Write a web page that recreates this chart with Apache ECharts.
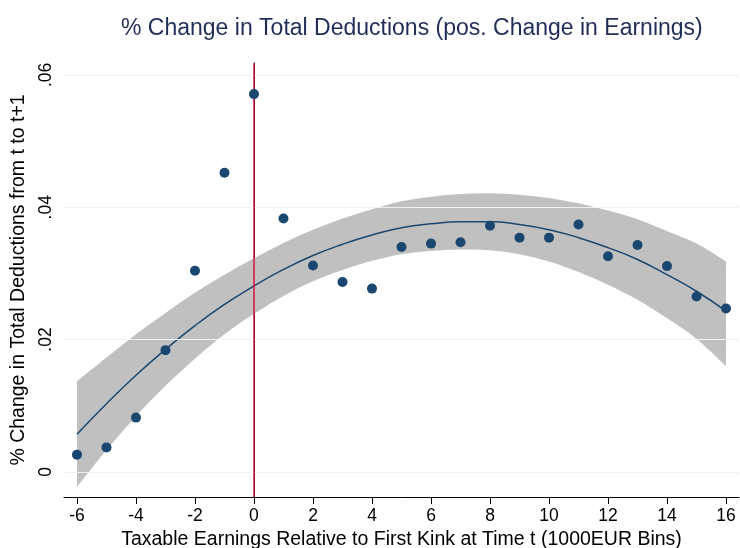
<!DOCTYPE html>
<html>
<head>
<meta charset="utf-8">
<script src="https://cdn.jsdelivr.net/npm/echarts@6/dist/echarts.min.js"></script>
<style>
  html, body { margin: 0; padding: 0; background: #fff; }
  #main { width: 740px; height: 548px; }
</style>
</head>
<body>
<div id="main"></div>
<script>
// bins relative to first kink (1000 EUR)
const bins = [-6, -5, -4, -3, -2, -1, 0, 1, 2, 3, 4, 5, 6, 7, 8, 9, 10, 11, 12, 13, 14, 15, 16]
// binned % change in total deductions
const deductions = [0.0026, 0.0037, 0.0082, 0.0184, 0.0304, 0.0452, 0.0571, 0.0383, 0.0312, 0.0287, 0.0277, 0.0340,
    0.0345, 0.0347, 0.0372, 0.0354, 0.0354, 0.0374, 0.0326, 0.0343, 0.0311, 0.0265, 0.0247]
// quadratic fit
const fitLine = [0.0057, 0.0103, 0.0146, 0.0185, 0.0221, 0.0253, 0.0281, 0.0306, 0.0327, 0.0344, 0.0358, 0.0369,
    0.0375, 0.0378, 0.0378, 0.0374, 0.0366, 0.0354, 0.0339, 0.0321, 0.0298, 0.0273, 0.0243]
// confidence band edges
const ciUpper = [0.0137, 0.0173, 0.0208, 0.0240, 0.0271, 0.0298, 0.0323, 0.0346, 0.0366, 0.0383, 0.0397, 0.0409,
    0.0416, 0.0420, 0.0421, 0.0419, 0.0414, 0.0406, 0.0395, 0.0382, 0.0364, 0.0345, 0.0318]
const ciLower = [-0.0023, 0.0033, 0.0084, 0.0130, 0.0171, 0.0208, 0.0239, 0.0266, 0.0288, 0.0305, 0.0319, 0.0329,
    0.0334, 0.0336, 0.0335, 0.0329, 0.0318, 0.0302, 0.0283, 0.0260, 0.0232, 0.0201, 0.0160]

const xTicks = [-6, -4, -2, 0, 2, 4, 6, 8, 10, 12, 14, 16]
const yTicks = [0, 0.02, 0.04, 0.06]

const navy = '#1a476f'
const font = 'Liberation Sans, Arial, sans-serif'

var myChart = echarts.init(document.getElementById('main'))

// smooth curve through pixel points (cardinal spline -> bezier)
function curveThrough(p) {
    var d = ''
    for (let i = 0; i < p.length - 1; i++) {
        const a = p[Math.max(i - 1, 0)], b = p[i], c = p[i + 1], e = p[Math.min(i + 2, p.length - 1)]
        const c1 = [b[0] + (c[0] - a[0]) / 6, b[1] + (c[1] - a[1]) / 6]
        const c2 = [c[0] - (e[0] - b[0]) / 6, c[1] - (e[1] - b[1]) / 6]
        d += ' C' + c1[0] + ',' + c1[1] + ' ' + c2[0] + ',' + c2[1] + ' ' + c[0] + ',' + c[1]
    }
    return d
}

// band: upper edge left->right, lower edge right->left
function renderBand(params, api) {
    if (params.dataIndex !== 0) return
    var up = bins.map((x, i) => api.coord([x, ciUpper[i]]))
    var lo = []
    for (let i = bins.length - 1; i >= 0; i--) lo.push(api.coord([bins[i], ciLower[i]]))
    var d = 'M' + up[0][0] + ',' + up[0][1] + curveThrough(up) +
        ' L' + lo[0][0] + ',' + lo[0][1] + curveThrough(lo) + ' Z'
    return {
        type: 'path',
        shape: { pathData: d },
        style: { fill: '#c0c0c0', stroke: null }
    }
}

var option = {
    animation: false,
    backgroundColor: '#fff',
    title: {
        text: '% Change in Total Deductions (pos. Change in Earnings)',
        left: 116,
        top: 12,
        textStyle: { color: '#1f2d58', fontSize: 23, fontWeight: 'normal', fontFamily: font }
    },
    grid: { left: 64, right: 1, top: 63, bottom: 51, outerBoundsMode: 'none', containLabel: false },
    xAxis: {
        type: 'value',
        min: -6.44,
        max: 16.44,
        name: 'Taxable Earnings Relative to First Kink at Time t (1000EUR Bins)',
        nameLocation: 'middle',
        nameGap: 30,
        nameTextStyle: { color: '#000', fontSize: 19.5, fontFamily: font },
        axisLine: { onZero: false, lineStyle: { color: '#000', width: 1 } },
        axisTick: { customValues: xTicks, length: 7, lineStyle: { color: '#000' } },
        axisLabel: {
            customValues: xTicks,
            color: '#000',
            fontSize: 17.5,
            fontFamily: font,
            margin: 10,
            formatter: v => String(v)
        },
        splitLine: { show: false }
    },
    yAxis: {
        type: 'value',
        min: -0.0038,
        max: 0.0618,
        name: '% Change in Total Deductions from t to t+1',
        nameLocation: 'middle',
        nameGap: 33,
        nameTextStyle: { color: '#000', fontSize: 19.5, fontFamily: font },
        axisLine: { show: true, lineStyle: { color: '#000', width: 1 } },
        axisTick: { customValues: yTicks, length: 7, lineStyle: { color: '#000' } },
        axisLabel: {
            customValues: yTicks,
            rotate: 90,
            color: '#000',
            fontSize: 17.5,
            fontFamily: font,
            margin: 9,
            formatter: v => v === 0 ? '0' : String(+v.toFixed(2)).replace(/^0/, '')
        },
        splitLine: { show: false }
    },
    series: [
        {
            name: 'grid',
            type: 'line',
            data: [],
            markLine: {
                silent: true,
                symbol: 'none',
                label: { show: false },
                lineStyle: { color: '#eaf2f3', width: 1.2, type: 'solid' },
                data: yTicks.map(v => ({ yAxis: v }))
            },
            z: 0
        },
        {
            name: 'ci',
            type: 'custom',
            renderItem: renderBand,
            data: bins.map((x, i) => [x, ciUpper[i], ciLower[i]]),
            encode: { x: 0, y: [1, 2] },
            silent: true,
            z: 1
        },
        {
            name: 'fit',
            type: 'line',
            data: bins.map((x, i) => [x, fitLine[i]]),
            showSymbol: false,
            symbol: 'none',
            smooth: true,
            lineStyle: { color: navy, width: 1.5 },
            z: 3
        },
        {
            name: 'kink',
            type: 'line',
            data: [],
            markLine: {
                silent: true,
                symbol: 'none',
                label: { show: false },
                lineStyle: { color: '#d4133f', width: 1.5, type: 'solid' },
                data: [{ xAxis: 0 }]
            },
            z: 4
        },
        {
            name: 'deductions',
            type: 'scatter',
            data: bins.map((x, i) => [x, deductions[i]]),
            symbolSize: 10,
            itemStyle: { color: navy, opacity: 1 },
            z: 5
        }
    ]
}

myChart.setOption(option)
</script>
</body>
</html>
